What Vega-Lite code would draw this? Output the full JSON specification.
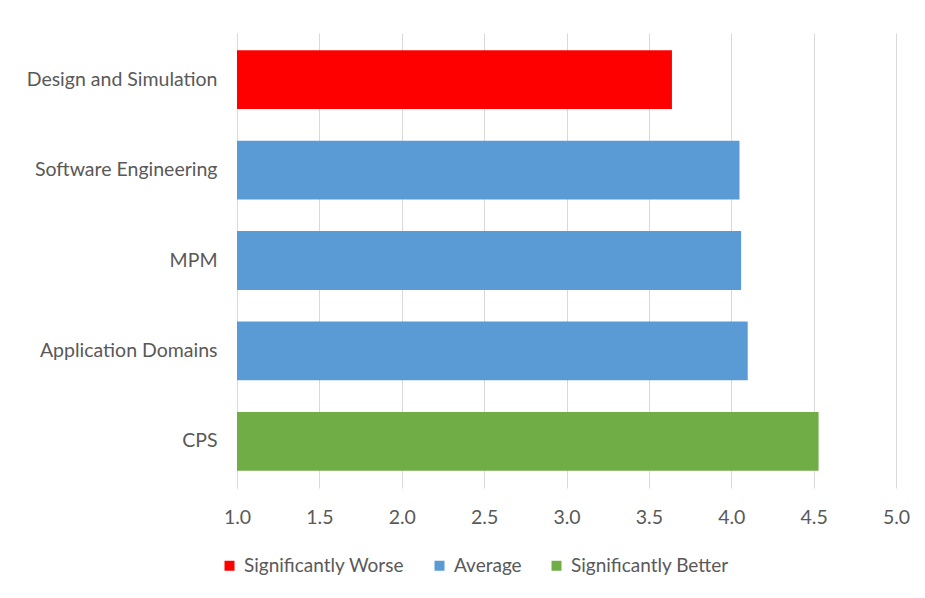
{
  "$schema": "https://vega.github.io/schema/vega-lite/v6.json",
  "autosize": {"type": "none"},
  "width": 659,
  "height": 455,
  "padding": {"left": 237, "top": 33, "right": 29, "bottom": 110},
  "background": "white",
  "config": {
    "view": {"stroke": null},
    "font": "Lato",
    "axis": {"labelFont": "Lato", "labelColor": "#595959", "labelFontSize": 19.5, "labelLimit": 0},
    "legend": {"labelFont": "Lato", "labelColor": "#595959", "labelFontSize": 19, "labelLimit": 0}
  },
  "data": {
    "values": [
      {"area": "Design and Simulation", "score": 3.64, "rating": "Significantly Worse"},
      {"area": "Software Engineering", "score": 4.05, "rating": "Average"},
      {"area": "MPM", "score": 4.06, "rating": "Average"},
      {"area": "Application Domains", "score": 4.10, "rating": "Average"},
      {"area": "CPS", "score": 4.53, "rating": "Significantly Better"}
    ]
  },
  "mark": {"type": "bar"},
  "encoding": {
    "y": {
      "field": "area",
      "type": "nominal",
      "sort": null,
      "scale": {"paddingInner": 0.35, "paddingOuter": 0.19},
      "axis": {
        "title": null,
        "ticks": false,
        "labelPadding": 20,
        "domainColor": "#d9d9d9",
        "domainWidth": 1,
        "grid": false
      }
    },
    "x": {
      "field": "score",
      "type": "quantitative",
      "scale": {"domain": [1, 5], "zero": false, "nice": false},
      "axis": {
        "title": null,
        "values": [1, 1.5, 2, 2.5, 3, 3.5, 4, 4.5, 5],
        "format": ".1f",
        "domain": false,
        "ticks": false,
        "grid": true,
        "gridColor": "#d9d9d9",
        "gridWidth": 1,
        "labelPadding": 20,
        "labelFlush": false,
        "labelOverlap": false
      }
    },
    "x2": {"datum": 1},
    "color": {
      "field": "rating",
      "type": "nominal",
      "scale": {
        "domain": ["Significantly Worse", "Average", "Significantly Better"],
        "range": ["#ff0000", "#5b9bd5", "#70ad47"]
      },
      "legend": {
        "title": null,
        "orient": "none",
        "direction": "horizontal",
        "legendX": -17,
        "legendY": 523,
        "symbolType": "square",
        "symbolSize": 100,
        "symbolStrokeWidth": 0,
        "labelOffset": 5,
        "columnPadding": 25
      }
    }
  }
}
